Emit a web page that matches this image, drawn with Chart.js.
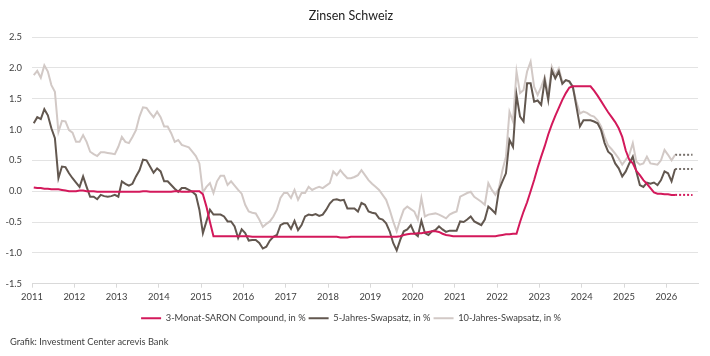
<!DOCTYPE html>
<html><head><meta charset="utf-8">
<script src="https://cdn.jsdelivr.net/npm/chart.js@4/dist/chart.umd.min.js"></script>
<style>html,body{margin:0;padding:0;background:#fff}</style>
</head><body>
<canvas id="c" width="710" height="356"></canvas>
<script>
const chartTitle = 'Zinsen Schweiz';
const sourceText = 'Grafik: Investment Center acrevis Bank';
const seriesNames = ['3-Monat-SARON Compound, in %', '5-Jahres-Swapsatz, in %', '10-Jahres-Swapsatz, in %'];
const firstYear = 2011; // monthly observations, Jan 2011 – Mar 2026
const yearTicks = [2011,2012,2013,2014,2015,2016,2017,2018,2019,2020,2021,2022,2023,2024,2025,2026];
const yTicks = [-1.5,-1.0,-0.5,0.0,0.5,1.0,1.5,2.0,2.5];
const projectionEnd = 2026.62;

const saron = [
 0.06,0.05,0.05,0.04,0.04,0.03,0.03,0.03,0.02,0.01,0.00,0.00,
 0.00,0.01,0.01,0.00,0.00,0.00,-0.01,-0.01,-0.01,-0.01,-0.01,-0.01,
 -0.01,-0.01,-0.01,-0.01,-0.01,-0.01,-0.01,0.00,0.00,-0.01,-0.01,-0.01,
 -0.01,-0.01,-0.01,-0.01,0.00,0.00,-0.01,-0.01,-0.01,0.00,0.00,0.00,
 -0.05,-0.25,-0.50,-0.73,-0.73,-0.73,-0.73,-0.73,-0.73,-0.73,-0.73,-0.73,
 -0.73,-0.73,-0.74,-0.74,-0.74,-0.74,-0.74,-0.74,-0.74,-0.74,-0.74,-0.74,
 -0.74,-0.74,-0.74,-0.74,-0.74,-0.74,-0.74,-0.74,-0.74,-0.74,-0.74,-0.74,
 -0.74,-0.74,-0.74,-0.75,-0.75,-0.75,-0.74,-0.74,-0.74,-0.74,-0.74,-0.74,
 -0.74,-0.74,-0.74,-0.74,-0.74,-0.74,-0.74,-0.74,-0.73,-0.71,-0.70,-0.69,
 -0.69,-0.68,-0.68,-0.67,-0.66,-0.65,-0.65,-0.66,-0.69,-0.71,-0.72,-0.73,
 -0.73,-0.73,-0.73,-0.73,-0.73,-0.73,-0.73,-0.73,-0.73,-0.73,-0.73,-0.73,
 -0.72,-0.71,-0.70,-0.70,-0.69,-0.69,-0.50,-0.33,-0.18,0.00,0.18,0.38,
 0.56,0.73,0.92,1.08,1.22,1.35,1.48,1.59,1.68,1.70,1.70,1.70,
 1.70,1.70,1.70,1.63,1.55,1.46,1.37,1.28,1.20,1.12,1.02,0.88,
 0.66,0.51,0.45,0.33,0.26,0.18,0.12,0.05,-0.02,-0.04,-0.04,-0.05,
 -0.05,-0.06,-0.06
];
const swap5 = [
 1.10,1.20,1.17,1.33,1.23,1.02,0.86,0.21,0.40,0.39,0.29,0.21,
 0.14,0.07,0.24,0.07,-0.09,-0.09,-0.13,-0.06,-0.08,-0.09,-0.08,-0.06,
 -0.09,0.16,0.12,0.09,0.12,0.24,0.34,0.51,0.50,0.40,0.30,0.37,
 0.32,0.16,0.16,0.10,0.04,-0.01,0.05,0.05,0.02,-0.01,-0.06,-0.30,
 -0.68,-0.49,-0.30,-0.38,-0.38,-0.38,-0.41,-0.49,-0.49,-0.57,-0.76,-0.62,
 -0.68,-0.80,-0.79,-0.79,-0.84,-0.93,-0.90,-0.80,-0.74,-0.71,-0.55,-0.52,
 -0.52,-0.61,-0.48,-0.63,-0.55,-0.41,-0.38,-0.39,-0.37,-0.40,-0.38,-0.30,
 -0.20,-0.14,-0.13,-0.15,-0.14,-0.28,-0.28,-0.28,-0.33,-0.19,-0.22,-0.33,
 -0.35,-0.36,-0.44,-0.46,-0.52,-0.65,-0.84,-0.96,-0.79,-0.65,-0.62,-0.55,
 -0.68,-0.73,-0.48,-0.68,-0.71,-0.65,-0.63,-0.57,-0.62,-0.66,-0.64,-0.64,
 -0.64,-0.49,-0.50,-0.46,-0.41,-0.49,-0.52,-0.55,-0.46,-0.25,-0.30,-0.36,
 0.02,0.16,0.29,0.83,0.72,1.56,1.21,1.13,1.75,1.75,1.45,1.47,
 1.40,1.80,1.48,1.96,1.83,1.94,1.74,1.80,1.78,1.69,1.37,1.05,
 1.15,1.15,1.15,1.13,1.10,0.99,0.78,0.64,0.59,0.45,0.37,0.24,
 0.32,0.45,0.56,0.32,0.10,0.07,0.14,0.12,0.14,0.10,0.18,0.32,
 0.29,0.16,0.36
];
const swap10 = [
 1.88,1.95,1.84,2.04,1.94,1.72,1.61,0.96,1.14,1.13,0.99,0.95,
 0.80,0.80,0.91,0.80,0.64,0.60,0.57,0.63,0.63,0.62,0.61,0.60,
 0.72,0.88,0.80,0.78,0.88,0.99,1.21,1.36,1.35,1.27,1.20,1.29,
 1.20,1.05,1.05,0.94,0.80,0.83,0.75,0.73,0.71,0.64,0.57,0.45,
 -0.02,0.07,0.13,-0.03,0.16,0.25,0.25,0.10,0.16,0.09,0.02,-0.04,
 -0.22,-0.33,-0.35,-0.36,-0.46,-0.58,-0.53,-0.49,-0.41,-0.30,-0.11,-0.03,
 -0.03,-0.11,0.02,-0.14,-0.03,-0.03,0.07,0.02,0.05,0.07,0.05,0.09,
 0.13,0.32,0.26,0.34,0.27,0.21,0.21,0.23,0.26,0.34,0.26,0.18,
 0.12,0.07,0.02,-0.06,-0.14,-0.30,-0.49,-0.65,-0.46,-0.30,-0.25,-0.29,
 -0.33,-0.46,-0.11,-0.41,-0.38,-0.37,-0.36,-0.38,-0.41,-0.44,-0.38,-0.35,
 -0.33,-0.09,-0.06,-0.03,-0.01,-0.09,-0.13,-0.17,-0.22,0.13,0.02,-0.06,
 0.05,0.34,0.56,1.29,1.13,1.94,1.59,1.64,1.94,2.10,1.69,1.56,
 1.69,1.85,1.56,2.02,1.88,1.99,1.77,1.80,1.77,1.67,1.45,1.26,
 1.29,1.27,1.23,1.21,1.15,1.05,0.88,0.74,0.68,0.61,0.53,0.43,
 0.51,0.59,0.78,0.48,0.43,0.45,0.56,0.45,0.44,0.43,0.50,0.67,
 0.59,0.50,0.59
];

const colSaron = '#d3195b', col5 = '#62574f', col10 = '#d2c9c6', colDots = '#77706b';
const FONT = 'Lato, "Open Sans", sans-serif';

function toPoints(arr) { return arr.map((v, i) => ({ x: firstYear + (i + 0.5) / 12, y: v })); }
function projection(arr) {
  const last = arr.length - 1;
  return [{ x: firstYear + (last + 0.5) / 12, y: arr[last] }, { x: projectionEnd, y: arr[last] }];
}

const footerPlugin = {
  id: 'footer',
  afterDraw(chart) {
    const ctx = chart.ctx;
    ctx.save();
    ctx.font = '9.3px ' + FONT;
    ctx.fillStyle = '#404040';
    ctx.textBaseline = 'middle';
    ctx.textAlign = 'left';
    ctx.fillText(sourceText, 10, 342);
    ctx.restore();
  }
};

new Chart(document.getElementById('c'), {
  type: 'line',
  data: {
    datasets: [
      { label: seriesNames[0], data: toPoints(saron), borderColor: colSaron, backgroundColor: colSaron, borderWidth: 2 },
      { label: seriesNames[1], data: toPoints(swap5), borderColor: col5, backgroundColor: col5, borderWidth: 2 },
      { label: seriesNames[2], data: toPoints(swap10), borderColor: col10, backgroundColor: col10, borderWidth: 2 },
      { label: 'p0', data: projection(saron), borderColor: colSaron, borderWidth: 2, borderDash: [2, 2] },
      { label: 'p1', data: projection(swap5), borderColor: colDots, borderWidth: 2, borderDash: [2, 2] },
      { label: 'p2', data: projection(swap10), borderColor: colDots, borderWidth: 2, borderDash: [2, 2] }
    ]
  },
  options: {
    responsive: false,
    animation: false,
    devicePixelRatio: 1,
    elements: { point: { radius: 0 }, line: { tension: 0 } },
    layout: { padding: { left: 4, right: 12, top: 0, bottom: 23 } },
    plugins: {
      tooltip: { enabled: false },
      title: {
        display: true, text: chartTitle, color: '#222',
        font: { family: FONT, size: 12.5, weight: 'normal' },
        padding: { top: 8, bottom: 14 }
      },
      legend: {
        position: 'bottom',
        labels: {
          boxWidth: 20, boxHeight: 2, padding: 3,
          color: '#404040', font: { family: FONT, size: 9.3 },
          generateLabels(chart) {
            return chart.data.datasets.slice(0, 3).map((ds, i) => ({
              text: ds.label, fillStyle: ds.borderColor, strokeStyle: ds.borderColor,
              lineWidth: 0, datasetIndex: i, hidden: false, fontColor: '#404040'
            }));
          }
        }
      }
    },
    scales: {
      x: {
        type: 'linear', min: 2011, max: 2026.75,
        afterBuildTicks: s => { s.ticks = yearTicks.map(v => ({ value: v })); },
        afterFit: s => { s.height = 27; },
        ticks: { callback: v => String(v), color: '#404040', font: { family: FONT, size: 9.4 }, padding: 4, maxRotation: 0, autoSkip: false },
        grid: { drawOnChartArea: false, drawTicks: true, tickLength: 4, color: '#d9d9d9' },
        border: { color: '#d9d9d9' }
      },
      y: {
        min: -1.5, max: 2.5,
        afterBuildTicks: s => { s.ticks = yTicks.map(v => ({ value: v })); },
        afterFit: s => { s.width = 28; },
        ticks: { callback: v => Number(v).toFixed(1), color: '#404040', font: { family: FONT, size: 9.4 }, padding: 10 },
        grid: { color: '#e3e3e3', drawTicks: false },
        border: { display: false }
      }
    }
  },
  plugins: [footerPlugin]
});
</script>
</body></html>
